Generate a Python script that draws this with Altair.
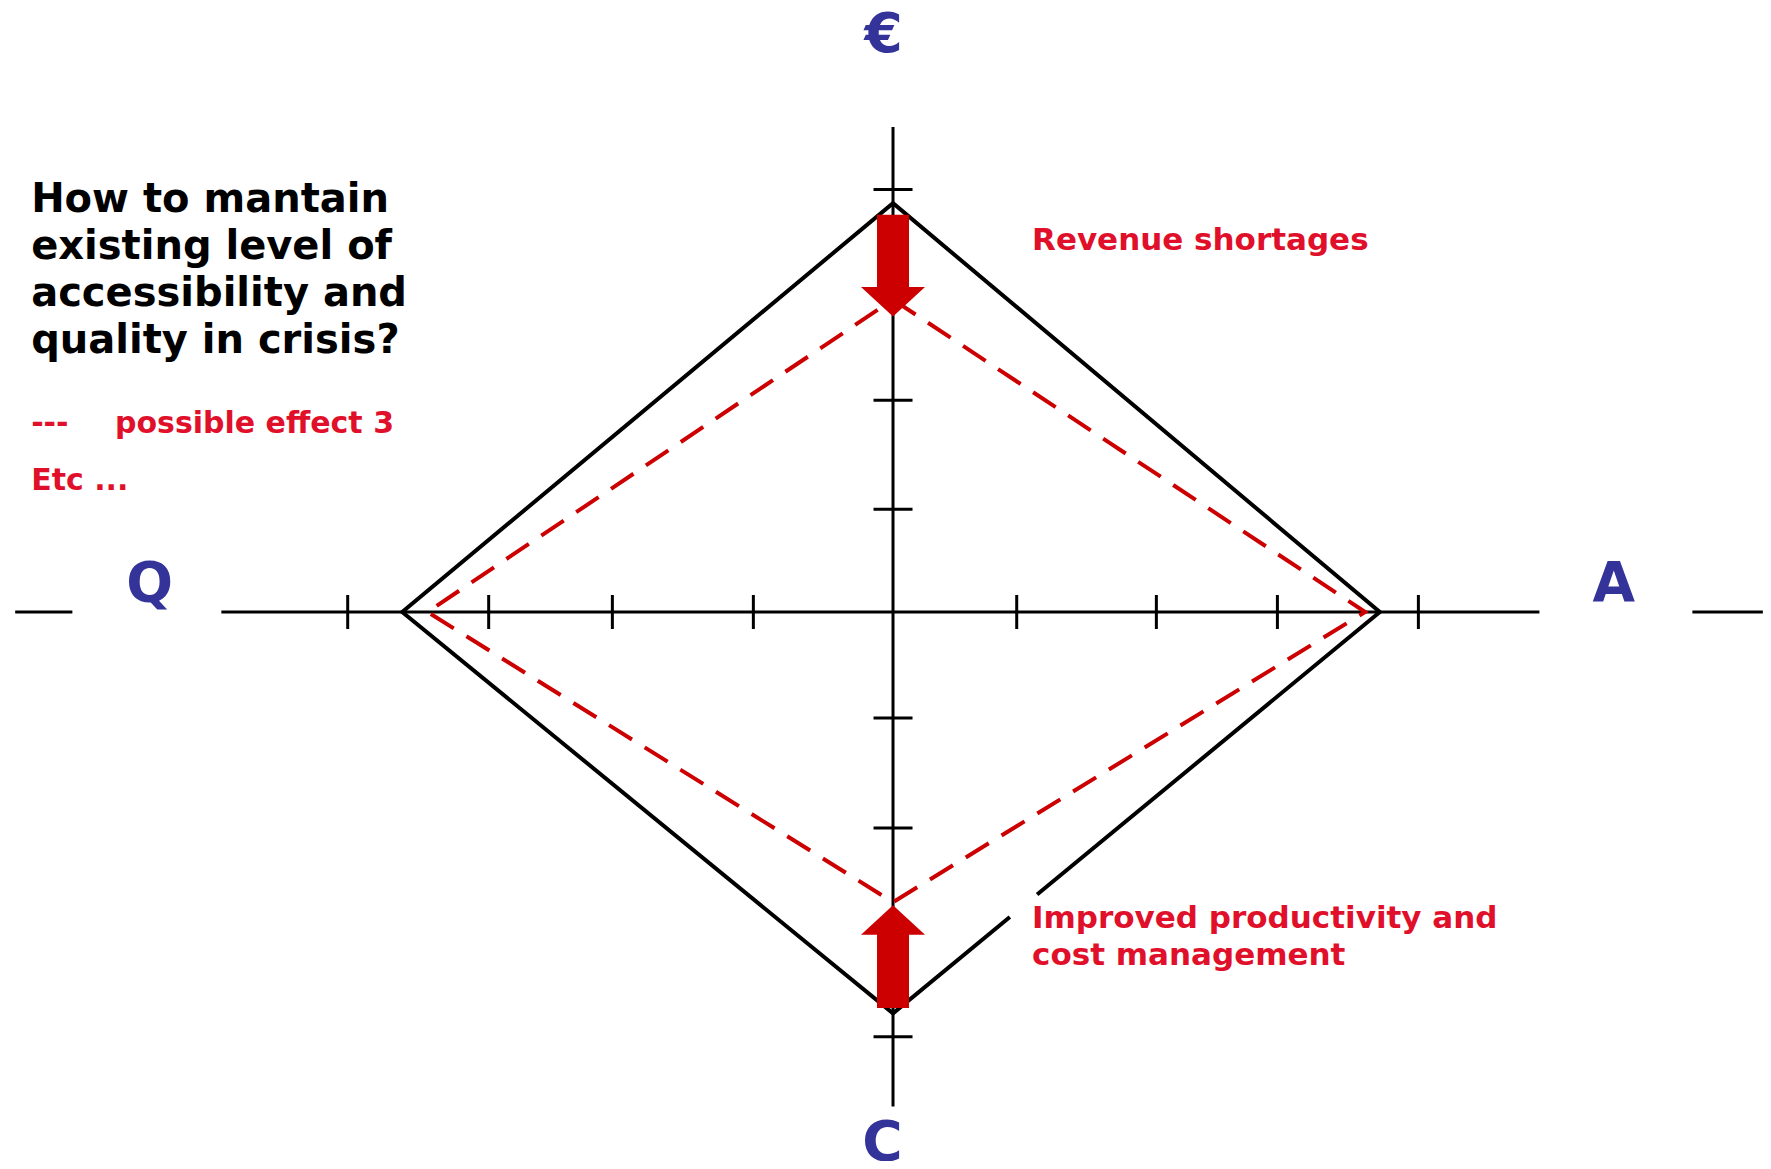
import altair as alt
import pandas as pd

# ---------------- data ----------------
# Horizontal (Q - A) axis pieces, broken where the letters sit
H_AXIS_FROM = [-6.60, -5.05, 6.01]
H_AXIS_TO = [-6.17, 4.86, 6.54]
# Vertical (EUR - C) axis extent
V_AXIS_FROM = [4.58]
V_AXIS_TO = [-4.67]
# Tick positions
X_TICKS = [-4.10, -3.04, -2.11, -1.05, 0.93, 1.98, 2.89, 3.95]
Y_TICKS = [3.99, 2.99, 2.00, 0.97, -1.00, -2.04, -3.02, -4.01]

# Diamond vertices in order: EUR (top), A (right), C (bottom), Q (left)
BASE_X = [0.00, 3.66, 0.00, -3.69]
BASE_Y = [3.86, 0.00, -3.79, 0.00]
EFFECT_X = [0.00, 3.55, 0.00, -3.50]
EFFECT_Y = [2.95, 0.00, -2.74, 0.00]
# break in the solid C-A edge (fraction of the way from C to A)
EDGE_GAP = [0.24, 0.296]

# Arrows on the EUR / C axis
ARROW_DIR = ["down", "up"]
ARROW_FROM = [3.75, -3.74]
ARROW_NECK = [3.06, -3.03]
ARROW_TIP = [2.79, -2.77]

# Texts
AXIS_LABELS = ["€", "A", "C", "Q"]
AXIS_LABEL_X = [-0.07, 5.42, -0.08, -5.59]
AXIS_LABEL_Y = [5.29, 0.10, -5.17, 0.10]
QUESTION = ["How to mantain", "existing level of", "accessibility and", "quality in crisis?"]
LEGEND_TEXT = ["---", "possible effect 3", "Etc ..."]
LEGEND_X = [-6.48, -5.85, -6.48]
LEGEND_Y = [1.69, 1.69, 1.15]
NOTE_TEXT = ["Revenue shortages", "Improved productivity and\ncost management"]
NOTE_X = [1.045, 1.045]
NOTE_Y = [3.418, -2.984]

# ---------------- layout ----------------
W, H = 1755, 1153
XS = alt.Scale(domain=[-6.654, 6.541], nice=False, zero=False)
YS = alt.Scale(domain=[-5.184, 5.703], nice=False, zero=False)
RED = "#cc0000"
RED_TEXT = "#e0102a"
BLUE = "#333399"
FONT = "DejaVu Sans"


def X(f):
    return alt.X(f, type="quantitative", scale=XS, axis=None)


def Y(f):
    return alt.Y(f, type="quantitative", scale=YS, axis=None)


# axes
h_axis = pd.DataFrame({"x": H_AXIS_FROM, "x2": H_AXIS_TO, "y": 0.0})
v_axis = pd.DataFrame({"x": 0.0, "y": V_AXIS_FROM, "y2": V_AXIS_TO})
h_axis_layer = alt.Chart(h_axis).mark_rule(color="black", strokeWidth=3).encode(
    x=X("x"), x2="x2", y=Y("y"))
v_axis_layer = alt.Chart(v_axis).mark_rule(color="black", strokeWidth=3).encode(
    x=X("x"), y=Y("y"), y2="y2")

xt = pd.DataFrame({"x": X_TICKS, "y": 0.0})
yt = pd.DataFrame({"x": 0.0, "y": Y_TICKS})
xt_layer = alt.Chart(xt).mark_tick(orient="vertical", size=34, thickness=3, color="black", opacity=1).encode(
    x=X("x"), y=Y("y"))
yt_layer = alt.Chart(yt).mark_tick(orient="horizontal", size=39, thickness=3, color="black", opacity=1).encode(
    x=X("x"), y=Y("y"))

# solid diamond with a break on the C-A edge
bx, by = BASE_X, BASE_Y


def along(t):
    return (bx[2] + t * (bx[1] - bx[2]), by[2] + t * (by[1] - by[2]))


p_lo = along(EDGE_GAP[0])
p_hi = along(EDGE_GAP[1])
pts = [p_hi, (bx[1], by[1]), (bx[0], by[0]), (bx[3], by[3]), (bx[2], by[2]), p_lo]
base_df = pd.DataFrame({"x": [p[0] for p in pts], "y": [p[1] for p in pts], "i": range(len(pts))})
base_layer = alt.Chart(base_df).mark_line(color="black", strokeWidth=4, strokeJoin="miter").encode(
    x=X("x"), y=Y("y"), order="i:Q")

ex = EFFECT_X + [EFFECT_X[0]]
ey = EFFECT_Y + [EFFECT_Y[0]]
eff_df = pd.DataFrame({"x": ex, "y": ey, "i": range(len(ex))})
eff_layer = alt.Chart(eff_df).mark_line(color=RED, strokeWidth=4, strokeDash=[27, 15]).encode(
    x=X("x"), y=Y("y"), order="i:Q")

# arrows
arr = pd.DataFrame({"x": 0.0, "from": ARROW_FROM, "neck": ARROW_NECK, "tip": ARROW_TIP, "dir": ARROW_DIR})
shaft_layer = alt.Chart(arr).mark_rule(color=RED, strokeWidth=32, strokeCap="butt").encode(
    x=X("x"), y=Y("from"), y2="neck")
HEAD_DOWN = "M -1 -0.92 L 1 -0.92 L 0 0 Z"
HEAD_UP = "M -1 0.92 L 1 0.92 L 0 0 Z"
head_layer = alt.Chart(arr).mark_point(filled=True, opacity=1, size=4096, color=RED, strokeWidth=0).encode(
    x=X("x"), y=Y("tip"),
    shape=alt.Shape("dir:N", scale=alt.Scale(domain=["down", "up"], range=[HEAD_DOWN, HEAD_UP]), legend=None))

# texts
lab = pd.DataFrame({"x": AXIS_LABEL_X, "y": AXIS_LABEL_Y, "t": AXIS_LABELS})
lab_layer = alt.Chart(lab).mark_text(font=FONT, fontSize=55, fontWeight="bold", color=BLUE,
                                     align="center", baseline="alphabetic").encode(
    x=X("x"), y=Y("y"), text="t:N")

q = pd.DataFrame({"x": [-6.48], "y": [3.777], "t": ["\n".join(QUESTION)]})
q_layer = alt.Chart(q).mark_text(font=FONT, fontSize=40, fontWeight="bold", color="black",
                                 align="left", baseline="alphabetic", lineBreak="\n", lineHeight=47).encode(
    x=X("x"), y=Y("y"), text="t:N")

leg = pd.DataFrame({"x": LEGEND_X, "y": LEGEND_Y, "t": LEGEND_TEXT})
leg_layer = alt.Chart(leg).mark_text(font=FONT, fontSize=30, fontWeight="bold", color=RED_TEXT,
                                     align="left", baseline="alphabetic").encode(
    x=X("x"), y=Y("y"), text="t:N")

notes = pd.DataFrame({"x": NOTE_X, "y": NOTE_Y, "t": NOTE_TEXT})
notes_layer = alt.Chart(notes).mark_text(font=FONT, fontSize=31, fontWeight="bold", color=RED_TEXT,
                                         align="left", baseline="alphabetic", lineBreak="\n",
                                         lineHeight=37).encode(
    x=X("x"), y=Y("y"), text="t:N")

chart = alt.layer(
    h_axis_layer, v_axis_layer, xt_layer, yt_layer,
    base_layer, eff_layer, shaft_layer, head_layer,
    lab_layer, q_layer, leg_layer, notes_layer,
).properties(
    width=W, height=H, padding=0,
    autosize=alt.AutoSizeParams(type="none"),
    background="white",
).configure_view(stroke=None)

chart.save("out.html", embed_options={"renderer": "svg", "actions": False})
